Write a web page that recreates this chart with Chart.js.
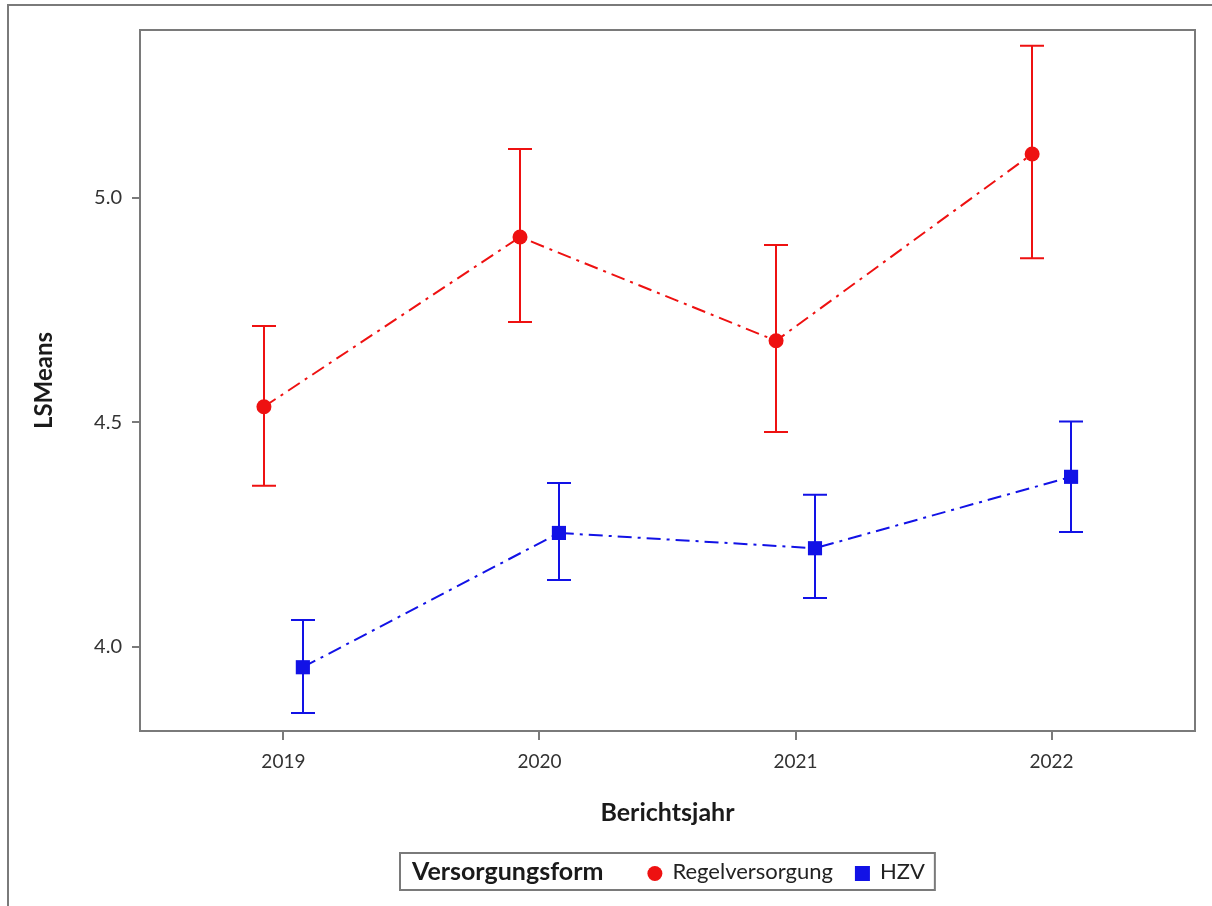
<!DOCTYPE html>
<html>
<head>
<meta charset="utf-8">
<title>LSMeans nach Berichtsjahr</title>
<script src="https://cdn.jsdelivr.net/npm/chart.js@4.4.1/dist/chart.umd.min.js"></script>
<style>
    html, body { margin: 0; padding: 0; background: #fff; }
    #wrap { position: relative; width: 1212px; height: 906px; overflow: hidden; }
    #frame { position: absolute; left: 7px; top: 4px; right: -10px; bottom: -10px; border: 2px solid #7a7a7a; }
    #chart { position: absolute; left: 0; top: 0; }
</style>
</head>
<body>
<div id="wrap">
    <div id="frame"></div>
    <canvas id="chart" width="1212" height="906"></canvas>
</div>
<script>
(function () {
    'use strict';

    var years = [2019, 2020, 2021, 2022];
    var yTicks = [4.0, 4.5, 5.0];

    var regelMeans = [4.535, 4.913, 4.682, 5.098];
    var regelLower = [4.359, 4.724, 4.479, 4.866];
    var regelUpper = [4.715, 5.109, 4.895, 5.339];

    var hzvMeans = [3.955, 4.254, 4.220, 4.379];
    var hzvLower = [3.853, 4.149, 4.109, 4.256];
    var hzvUpper = [4.060, 4.365, 4.339, 4.502];

    var FONT = "Lato, 'Open Sans', sans-serif";
    var RED = '#ee1111';
    var BLUE = '#1212e6';
    var FRAME = '#7a7a7a';

    // groups are nudged apart horizontally so the error bars don't overlap
    var DODGE = 0.076;

    function points(means, shift) {
        return means.map(function (v, i) {
            return { x: years[i] + shift, y: v };
        });
    }

    // vertical confidence bars with caps, drawn under the markers
    var errorBars = {
        id: 'errorBars',
        beforeDatasetsDraw: function (chart) {
            var ctx = chart.ctx;
            var yScale = chart.scales.y;
            var cap = 12;

            ctx.save();
            chart.data.datasets.forEach(function (ds, di) {
                var meta = chart.getDatasetMeta(di);
                ctx.strokeStyle = ds.borderColor;
                ctx.lineWidth = 2;
                ctx.setLineDash([]);
                meta.data.forEach(function (pt, i) {
                    var x = Math.round(pt.x);
                    var top = yScale.getPixelForValue(ds.errUpper[i]);
                    var bottom = yScale.getPixelForValue(ds.errLower[i]);
                    ctx.beginPath();
                    ctx.moveTo(x, top);
                    ctx.lineTo(x, bottom);
                    ctx.moveTo(x - cap, top);
                    ctx.lineTo(x + cap, top);
                    ctx.moveTo(x - cap, bottom);
                    ctx.lineTo(x + cap, bottom);
                    ctx.stroke();
                });
            });
            ctx.restore();
        }
    };

    // closes the plot frame on top and right
    var plotFrame = {
        id: 'plotFrame',
        afterDraw: function (chart) {
            var a = chart.chartArea;
            var ctx = chart.ctx;
            ctx.save();
            ctx.strokeStyle = FRAME;
            ctx.lineWidth = 2;
            ctx.strokeRect(a.left, a.top, a.right - a.left, a.bottom - a.top);
            ctx.restore();
        }
    };

    // single-row legend with a bold title inside a box
    var legendBox = {
        id: 'legendBox',
        afterDraw: function (chart) {
            var ctx = chart.ctx;
            var area = chart.chartArea;
            var title = 'Versorgungsform';
            var titleFont = 'bold 25px ' + FONT;
            var itemFont = '22px ' + FONT;
            var padL = 12, padR = 10, gapTitle = 44, gapItem = 22, gapMarker = 10, marker = 15;
            var boxH = 37;
            var boxTop = chart.scales.x.bottom + 22;

            ctx.save();
            ctx.font = titleFont;
            var titleW = ctx.measureText(title).width;
            ctx.font = itemFont;
            var items = chart.data.datasets.map(function (ds) {
                return { ds: ds, w: ctx.measureText(ds.label).width };
            });

            var total = padL + titleW + padR;
            items.forEach(function (it, i) {
                total += (i === 0 ? gapTitle : gapItem) + marker + gapMarker + it.w;
            });

            var left = Math.round((area.left + area.right) / 2 - total / 2);
            var midY = boxTop + boxH / 2;

            ctx.strokeStyle = FRAME;
            ctx.lineWidth = 2;
            ctx.strokeRect(left, boxTop, total, boxH);

            ctx.textBaseline = 'middle';
            ctx.textAlign = 'left';
            ctx.fillStyle = '#1a1a1a';
            ctx.font = titleFont;
            var x = left + padL;
            ctx.fillText(title, x, midY);
            x += titleW;

            ctx.font = itemFont;
            items.forEach(function (it, i) {
                x += (i === 0 ? gapTitle : gapItem);
                ctx.fillStyle = it.ds.backgroundColor;
                if (it.ds.pointStyle === 'circle') {
                    ctx.beginPath();
                    ctx.arc(x + marker / 2, midY + 2, marker / 2, 0, Math.PI * 2);
                    ctx.fill();
                } else {
                    ctx.fillRect(x, midY + 2 - marker / 2, marker, marker);
                }
                x += marker + gapMarker;
                ctx.fillStyle = '#222';
                ctx.fillText(it.ds.label, x, midY);
                x += it.w;
            });
            ctx.restore();
        }
    };

    new Chart(document.getElementById('chart'), {
        type: 'line',
        data: {
            datasets: [{
                label: 'Regelversorgung',
                data: points(regelMeans, -DODGE),
                errLower: regelLower,
                errUpper: regelUpper,
                borderColor: RED,
                backgroundColor: RED,
                borderWidth: 2,
                borderDash: [14, 6, 3, 6],
                pointStyle: 'circle',
                pointRadius: 7.5,
                pointBorderWidth: 0,
                tension: 0
            }, {
                label: 'HZV',
                data: points(hzvMeans, DODGE),
                errLower: hzvLower,
                errUpper: hzvUpper,
                borderColor: BLUE,
                backgroundColor: BLUE,
                borderWidth: 2,
                borderDash: [14, 6, 3, 6],
                pointStyle: 'rect',
                pointRadius: 10,
                pointBorderWidth: 0,
                tension: 0
            }]
        },
        options: {
            responsive: false,
            devicePixelRatio: 1,
            animation: false,
            layout: { padding: { left: 0, top: 30, right: 17, bottom: 75 } },
            plugins: {
                legend: { display: false },
                tooltip: { enabled: false }
            },
            scales: {
                x: {
                    type: 'linear',
                    min: 2018.44,
                    max: 2022.56,
                    afterBuildTicks: function (scale) {
                        scale.ticks = years.map(function (v) { return { value: v }; });
                    },
                    afterFit: function (scale) { scale.height = 100; },
                    grid: { display: true, drawOnChartArea: false, drawTicks: true, tickLength: 9, color: FRAME, lineWidth: 2 },
                    border: { display: true, color: FRAME, width: 2 },
                    ticks: {
                        color: '#333',
                        padding: 10,
                        maxRotation: 0,
                        font: { family: FONT, size: 19 },
                        callback: function (value) { return String(value); }
                    },
                    title: {
                        display: true,
                        text: 'Berichtsjahr',
                        color: '#1a1a1a',
                        padding: { top: 0, bottom: 3 },
                        font: { family: FONT, size: 25, weight: 'bold' }
                    }
                },
                y: {
                    min: 3.813,
                    max: 5.374,
                    afterBuildTicks: function (scale) {
                        scale.ticks = yTicks.map(function (v) { return { value: v }; });
                    },
                    afterFit: function (scale) { scale.width = 140; },
                    grid: { display: true, drawOnChartArea: false, drawTicks: true, tickLength: 8, color: FRAME, lineWidth: 2 },
                    border: { display: true, color: FRAME, width: 2 },
                    ticks: {
                        color: '#333',
                        padding: 10,
                        font: { family: FONT, size: 20 },
                        callback: function (value) { return Number(value).toFixed(1); }
                    },
                    title: {
                        display: true,
                        text: 'LSMeans',
                        color: '#1a1a1a',
                        padding: { top: 30, bottom: 0 },
                        font: { family: FONT, size: 24, weight: 'bold' }
                    }
                }
            }
        },
        plugins: [errorBars, plotFrame, legendBox]
    });
})();
</script>
</body>
</html>
